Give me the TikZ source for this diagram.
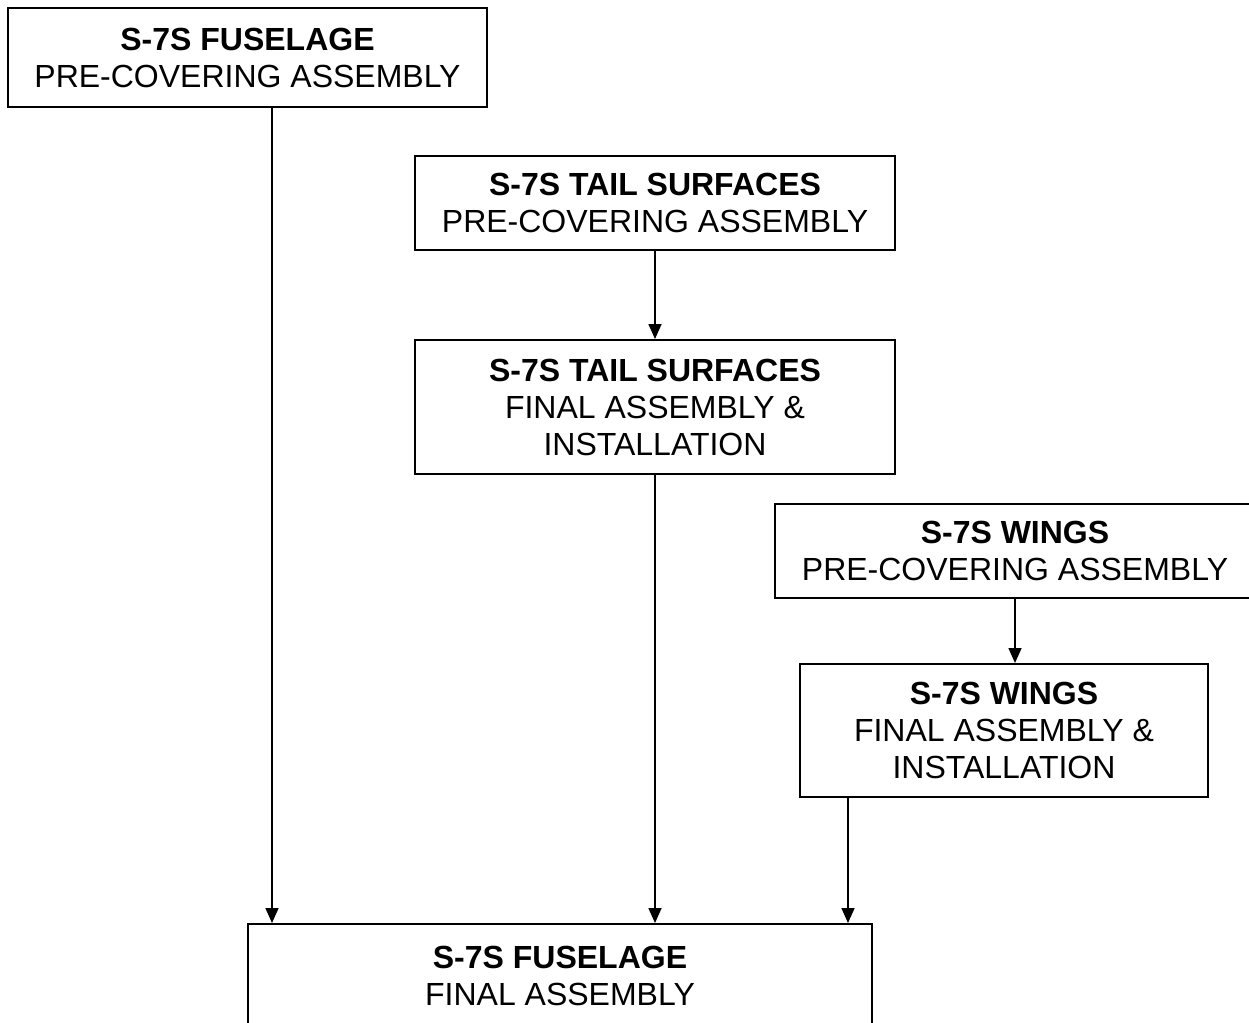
\documentclass[tikz,border=0pt]{standalone}
\usepackage{fontspec}
\setmainfont{Liberation Sans}
\usetikzlibrary{arrows.meta}
\begin{document}
\begin{tikzpicture}[x=1pt,y=-1pt,
  box/.style={draw=black,line width=2pt,rectangle,align=center,inner sep=0pt,
    font=\fontsize{32}{37}\selectfont},
  arr/.style={draw=black,line width=1.6pt,-{Triangle[width=13pt,length=15pt]}}]
\useasboundingbox (0,0) rectangle (1249,1022);
\clip (0,0) rectangle (1249,1022);
\fill[white] (0,0) rectangle (1249,1022);
\node[box,minimum width=479pt,minimum height=99pt] (fp) at (247.5,57.5)
  {\textbf{S-7S FUSELAGE}\\PRE-COVERING ASSEMBLY};
\node[box,minimum width=480pt,minimum height=94pt] (tp) at (655,203)
  {\textbf{S-7S TAIL SURFACES}\\PRE-COVERING ASSEMBLY};
\node[box,minimum width=480pt,minimum height=134pt] (tf) at (655,407)
  {\textbf{S-7S TAIL SURFACES}\\FINAL ASSEMBLY \&\\INSTALLATION};
\node[box,minimum width=480pt,minimum height=94pt] (wp) at (1015,551)
  {\textbf{S-7S WINGS}\\PRE-COVERING ASSEMBLY};
\node[box,minimum width=408pt,minimum height=133pt] (wf) at (1004,730.5)
  {\textbf{S-7S WINGS}\\FINAL ASSEMBLY \&\\INSTALLATION};
\node[box,minimum width=624pt,minimum height=104pt] (ff) at (560,976)
  {\textbf{S-7S FUSELAGE}\\FINAL ASSEMBLY};
\draw[arr] (fp.south -| 272,0) -- (ff.north -| 272,0);
\draw[arr] (tp.south) -- (tf.north);
\draw[arr] (tf.south) -- (ff.north -| tf.south);
\draw[arr] (wp.south) -- (wf.north -| wp.south);
\draw[arr] (wf.south -| 848,0) -- (ff.north -| 848,0);
\end{tikzpicture}
\end{document}
